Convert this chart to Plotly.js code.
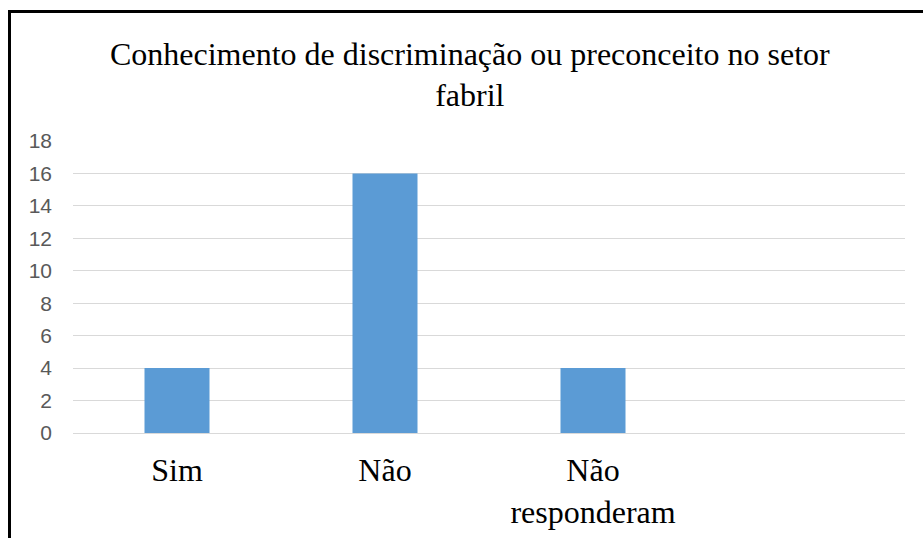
<!DOCTYPE html>
<html>
<head>
<meta charset="utf-8">
<script src="https://cdn.plot.ly/plotly-3.0.1.min.js"></script>
<style>
  html, body { margin: 0; padding: 0; background: #fff; }
  #wrap { position: relative; width: 923px; height: 538px; overflow: hidden; }
  #chart { position: absolute; left: 0; top: 0; width: 923px; height: 538px; }
  #frame { position: absolute; left: 8px; top: 10px; width: 940px; height: 560px;
           border-left: 3px solid #000; border-top: 3px solid #000; pointer-events: none; }
</style>
</head>
<body>
<div id="wrap">
  <div id="chart"></div>
  <div id="frame"></div>
</div>
<script>
const titleText = "Conhecimento de discriminação ou preconceito no setor<br>fabril";
const categories = ["Sim", "Não", "Não<br>responderam"];
const values = [4, 16, 4];
const yTicks = [0, 2, 4, 6, 8, 10, 12, 14, 16, 18];

const trace = {
  type: "bar",
  x: categories,
  y: values,
  marker: { color: "#5b9bd5", line: { width: 0 } },
  hoverinfo: "skip"
};

const layout = {
  width: 923,
  height: 538,
  margin: { l: 73, r: 18, t: 141, b: 105 },
  paper_bgcolor: "#ffffff",
  plot_bgcolor: "#ffffff",
  showlegend: false,
  bargap: 0.6875,
  title: {
    text: titleText,
    font: { family: "Liberation Serif, Times New Roman, serif", size: 32, color: "#000" },
    x: 0.509, xanchor: "center",
    y: 0.88, yanchor: "top", yref: "container"
  },
  xaxis: {
    type: "category",
    range: [-0.5, 3.5],
    showgrid: false,
    zeroline: false,
    showline: false,
    ticks: "",
    tickfont: { family: "Liberation Serif, Times New Roman, serif", size: 32, color: "#000" },
    ticklabelstandoff: 15
  },
  yaxis: {
    range: [0, 18],
    tickvals: yTicks,
    ticktext: yTicks.map(String),
    showgrid: true,
    gridcolor: "#d9d9d9",
    gridwidth: 1,
    zeroline: true,
    zerolinecolor: "#d9d9d9",
    zerolinewidth: 1,
    showline: false,
    ticks: "",
    tickfont: { family: "Liberation Sans, Arial, sans-serif", size: 21, color: "#595959" },
    ticklabelstandoff: 20
  }
};

Plotly.newPlot("chart", [trace], layout, { displayModeBar: false, staticPlot: true });
</script>
</body>
</html>
